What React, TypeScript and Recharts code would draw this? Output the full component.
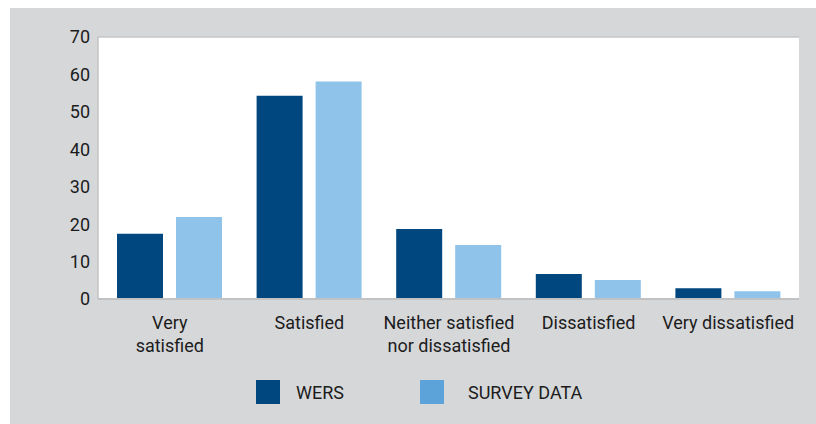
import React from "react";
import {
  BarChart,
  Bar,
  XAxis,
  YAxis,
  CartesianGrid,
  Legend,
} from "recharts";

const categories = [
  "Very satisfied",
  "Satisfied",
  "Neither satisfied nor dissatisfied",
  "Dissatisfied",
  "Very dissatisfied",
];
const tickLabels = [
  ["Very", "satisfied"],
  ["Satisfied"],
  ["Neither satisfied", "nor dissatisfied"],
  ["Dissatisfied"],
  ["Very dissatisfied"],
];
const wers = [17.4, 54.3, 18.7, 6.7, 2.9];
const survey = [21.9, 58.1, 14.4, 5.1, 2.1];
const yTicks = [0, 10, 20, 30, 40, 50, 60, 70];

const data = categories.map((name, i) => ({
  name,
  wers: wers[i],
  survey: survey[i],
}));

const FONT = "Roboto, 'Open Sans', sans-serif";
const TEXT = "#1c1c1c";

function XTick(props: any) {
  const { x, y, index } = props;
  const lines = tickLabels[index] || [];
  return (
    <text x={x} y={y} textAnchor="middle" fill={TEXT} fontSize={18} fontFamily={FONT}>
      {lines.map((l, i) => (
        <tspan key={i} x={x} dy={i === 0 ? 22 : 23}>
          {l}
        </tspan>
      ))}
    </text>
  );
}

function LegendBox() {
  return (
    <div style={{ height: 30, display: "flex", alignItems: "center", paddingLeft: 246, fontFamily: FONT, fontSize: 18, color: TEXT }}>
      <span style={{ width: 24, height: 24, background: "#00467f", display: "inline-block" }} />
      <span style={{ marginLeft: 16, width: 101 }}>WERS</span>
      <span style={{ width: 24, height: 24, background: "#5ba3d8", display: "inline-block", marginLeft: 23 }} />
      <span style={{ marginLeft: 24 }}>SURVEY DATA</span>
    </div>
  );
}

export default function App() {
  return (
    <div style={{ position: "fixed", left: 10, top: 8, right: 0, bottom: 0, background: "#d6d7d9" }}>
      <BarChart
        width={806}
        height={414}
        data={data}
        margin={{ top: 29, right: 17, left: 0, bottom: 15 }}
        barSize={46}
        barGap={13}
      >
        <CartesianGrid vertical={false} stroke="#c6c6c6" strokeWidth={1.5} fill="#ffffff" />
        <XAxis
          dataKey="name"
          height={78}
          tickLine={false}
          axisLine={{ stroke: "#c2c2c2", strokeWidth: 2 }}
          tick={<XTick />}
          interval={0}
          padding={{ left: 2, right: 1 }}
        />
        <YAxis
          yAxisId="left"
          width={88}
          domain={[0, 70]}
          ticks={yTicks}
          tickLine={false}
          axisLine={{ stroke: "#c2c2c2", strokeWidth: 1.5 }}
          tick={{ fill: TEXT, fontSize: 18, fontFamily: FONT }}
        />
        <YAxis
          yAxisId="right"
          orientation="right"
          width={0}
          domain={[0, 70]}
          tick={false}
          tickLine={false}
          axisLine={{ stroke: "#c2c2c2", strokeWidth: 2 }}
        />
        <Legend verticalAlign="bottom" content={<LegendBox />} wrapperStyle={{ left: 0, width: 806 }} />
        <Bar yAxisId="left" dataKey="wers" name="WERS" fill="#00467f" isAnimationActive={false} />
        <Bar yAxisId="left" dataKey="survey" name="SURVEY DATA" fill="#8fc3ea" isAnimationActive={false} />
      </BarChart>
    </div>
  );
}
